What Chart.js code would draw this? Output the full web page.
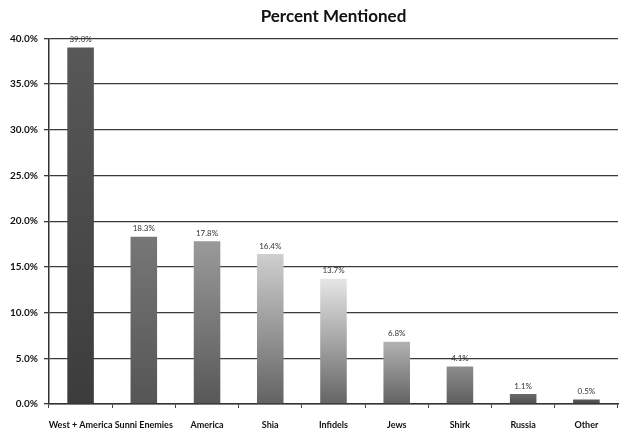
<!DOCTYPE html>
<html><head><meta charset="utf-8">
<script src="https://cdn.jsdelivr.net/npm/chart.js@4/dist/chart.umd.min.js"></script>
<style>html,body{margin:0;padding:0;background:#fff;}#wrap{width:621px;height:436px;}</style>
</head><body><div id="wrap"><canvas id="c" width="621" height="436"></canvas></div>
<script>
const categories = ["West + America","Sunni Enemies","America","Shia","Infidels","Jews","Shirk","Russia","Other"];
const values = [39.0, 18.3, 17.8, 16.4, 13.7, 6.8, 4.1, 1.1, 0.5];
const valueLabels = ["39.0%","18.3%","17.8%","16.4%","13.7%","6.8%","4.1%","1.1%","0.5%"];
const yTicks = [0,5,10,15,20,25,30,35,40];
const topColors = ["#585858","#777777","#9a9a9a","#cfcfcf","#e6e6e6","#b2b2b2","#8c8c8c","#6a6a6a","#5a5a5a"];
const bottomColors = ["#3c3c3c","#555555","#575757","#626262","#646464","#626262","#5e5e5e","#505050","#454545"];

const labelPlugin = {
  id:'vals',
  afterDatasetsDraw(chart){
    const ctx = chart.ctx;
    const meta = chart.getDatasetMeta(0);
    ctx.save();
    ctx.font = '8px Lato, sans-serif';
    ctx.fillStyle = '#333';
    ctx.textAlign = 'center';
    ctx.textBaseline = 'bottom';
    meta.data.forEach((bar,i)=>{
      ctx.fillText(valueLabels[i], bar.x, bar.y - 4);
    });
    ctx.restore();
  }
};

new Chart(document.getElementById('c'), {
  type:'bar',
  data:{
    labels: categories,
    datasets:[{
      data: values,
      barPercentage: 0.42,
      categoryPercentage: 1.0,
      borderWidth: 0,
      backgroundColor(ctx){
        const chart = ctx.chart;
        const ys = chart.scales.y;
        if(!ys || !chart.chartArea) return bottomColors[ctx.dataIndex];
        const yTop = ys.getPixelForValue(values[ctx.dataIndex]);
        const yBot = ys.getPixelForValue(0);
        const g = chart.ctx.createLinearGradient(0, yTop, 0, yBot);
        g.addColorStop(0, topColors[ctx.dataIndex]);
        g.addColorStop(1, bottomColors[ctx.dataIndex]);
        return g;
      }
    }]
  },
  options:{
    responsive:false,
    animation:false,
    devicePixelRatio:1,
    layout:{padding:{left:4,right:3,top:0,bottom:0}},
    plugins:{
      legend:{display:false},
      tooltip:{enabled:false},
      title:{display:true,text:'Percent Mentioned',color:'#111',fullSize:false,
        font:{family:'Lato, sans-serif',size:17,weight:'bold'},
        padding:{top:6,bottom:12}}
    },
    scales:{
      x:{
        afterFit(scale){ scale.height = 32; },
        grid:{display:true,drawOnChartArea:false,drawTicks:true,tickLength:4,color:'#444',offset:true},
        border:{display:true,color:'#333',width:1.5},
        ticks:{color:'#111',font:{family:'Lato, sans-serif',size:9,weight:'bold'},maxRotation:0,autoSkip:false,padding:12}
      },
      y:{
        min:0,max:40,
        afterBuildTicks(scale){ scale.ticks = yTicks.map(v=>({value:v})); },
        grid:{color:'#3a3a3a',lineWidth:1.3,tickLength:5},
        border:{display:true,color:'#333',width:1.5},
        ticks:{color:'#111',font:{family:'Lato, sans-serif',size:10,weight:'bold'},padding:6,
          callback:(v)=>v.toFixed(1)+'%'}
      }
    }
  },
  plugins:[labelPlugin]
});
</script></body></html>
